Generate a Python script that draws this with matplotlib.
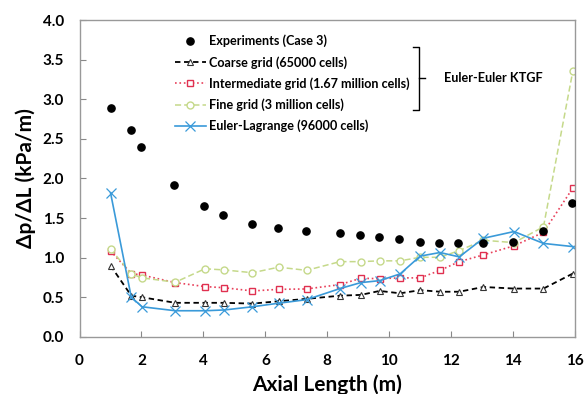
import matplotlib
matplotlib.use("Agg")
import matplotlib.pyplot as plt

plt.rcParams['font.family'] = ['Lato', 'DejaVu Sans']
plt.rcParams['font.weight'] = 'bold'

x_exp = [1.0, 1.66, 2.0, 3.06, 4.03, 4.64, 5.58, 6.40, 7.31, 8.40, 9.06, 9.67,
         10.32, 10.98, 11.61, 12.23, 13.02, 14.0, 14.98, 15.9]
y_exp = [2.89, 2.61, 2.40, 1.92, 1.65, 1.54, 1.43, 1.38, 1.34, 1.31, 1.29, 1.26,
         1.24, 1.20, 1.19, 1.18, 1.19, 1.20, 1.34, 1.69]

x_sim = [1.0, 1.67, 2.02, 3.09, 4.05, 4.68, 5.58, 6.43, 7.33, 8.41, 9.08, 9.69,
         10.35, 11.0, 11.64, 12.26, 13.04, 14.03, 14.98, 15.93]
y_coarse = [0.90, 0.52, 0.50, 0.43, 0.43, 0.43, 0.42, 0.45, 0.48, 0.52, 0.53, 0.58,
            0.55, 0.59, 0.57, 0.57, 0.63, 0.61, 0.61, 0.80]
y_inter = [1.085, 0.80, 0.78, 0.685, 0.635, 0.62, 0.58, 0.60, 0.605, 0.66, 0.74, 0.735,
           0.745, 0.745, 0.84, 0.95, 1.035, 1.15, 1.32, 1.88]
y_fine = [1.11, 0.795, 0.745, 0.69, 0.86, 0.845, 0.81, 0.88, 0.84, 0.95, 0.95, 0.96,
          0.96, 1.005, 1.005, 1.09, 1.22, 1.19, 1.39, 3.36]
y_el = [1.82, 0.50, 0.38, 0.33, 0.33, 0.34, 0.38, 0.425, 0.47, 0.61, 0.685, 0.71,
        0.795, 1.02, 1.065, 1.01, 1.245, 1.33, 1.18, 1.14]

labels = ["Experiments (Case 3)", "Coarse grid (65000 cells)",
          "Intermediate grid (1.67 million cells)", "Fine grid (3 million cells)",
          "Euler-Lagrange (96000 cells)"]
xticks = [0, 2, 4, 6, 8, 10, 12, 14, 16]
yticks = [0.0, 0.5, 1.0, 1.5, 2.0, 2.5, 3.0, 3.5, 4.0]

fig = plt.figure(figsize=(5.85, 3.94), dpi=100)
ax = fig.add_axes([0.136, 0.145, 0.847, 0.804])

ax.plot(x_exp, y_exp, 'o', color='black', markersize=5.2, label=labels[0], zorder=5)
ax.plot(x_sim, y_coarse, '--', color='black', lw=1.3, marker='^', markersize=5,
        markerfacecolor='white', markeredgecolor='#333333', markeredgewidth=0.8,
        label=labels[1], dashes=(3, 2))
ax.plot(x_sim, y_inter, ':', color='#e8405a', lw=1.2, marker='s', markersize=5,
        markerfacecolor='white', markeredgecolor='#e03050', markeredgewidth=1.0,
        label=labels[2])
ax.plot(x_sim, y_fine, '--', color='#c5d98a', lw=1.1, marker='o', markersize=5,
        markerfacecolor='white', markeredgecolor='#c5d98a', markeredgewidth=1.0,
        label=labels[3], dashes=(4, 2))
ax.plot(x_sim, y_el, '-', color='#3a9ad9', lw=1.2, marker='x', markersize=7,
        markeredgewidth=0.9, label=labels[4])

ax.set_xlim(0, 16)
ax.set_ylim(0, 4.0)
ax.set_xticks(xticks)
ax.set_yticks(yticks)
ax.set_xticklabels([str(t) for t in xticks])
ax.set_yticklabels([f"{t:.1f}" for t in yticks])
ax.tick_params(direction='in', length=4, color='#888888', labelsize=11)
ax.tick_params(axis='x', pad=12)
ax.tick_params(axis='y', pad=11)
for lab in ax.get_xticklabels() + ax.get_yticklabels():
    lab.set_fontweight('bold')
for s in ax.spines.values():
    s.set_color('#999999')
    s.set_linewidth(1.0)

ax.set_xlabel("Axial Length (m)", fontsize=15, fontweight='bold', labelpad=5)
ax.set_ylabel("Δp/ΔL (kPa/m)", fontsize=15, fontweight='bold', labelpad=5)

leg = ax.legend(loc='upper left', bbox_to_anchor=(0.17, 0.99), frameon=False,
                handlelength=2.4, handletextpad=0.25, labelspacing=0.68,
                prop={'weight': 'bold', 'size': 9.1})

# brace
bx = [0.673, 0.685, 0.685, 0.673]
by = [0.916, 0.916, 0.716, 0.716]
ax.plot(bx, by, color='black', lw=1.0, transform=ax.transAxes, clip_on=False)
ax.plot([0.685, 0.697], [0.816, 0.816], color='black', lw=1.0, transform=ax.transAxes)
ax.text(0.735, 0.816, "Euler-Euler KTGF", transform=ax.transAxes, fontsize=9.1,
        fontweight='bold', va='center', ha='left')

fig.savefig("out.png", dpi=100)
